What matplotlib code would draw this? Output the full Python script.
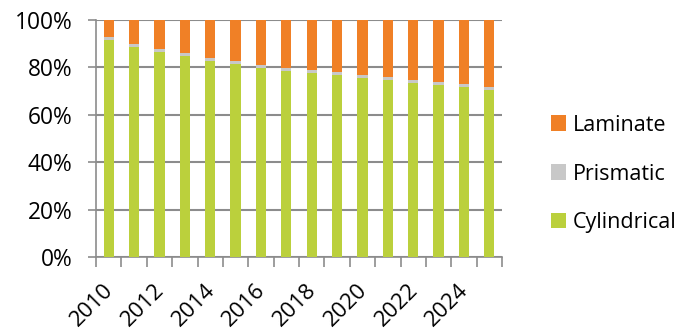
import matplotlib.pyplot as plt
import matplotlib.transforms as mtransforms
import numpy as np

years = list(range(2010, 2026))
cylindrical = [91.7, 88.7, 86.6, 84.7, 82.7, 81.4, 79.7, 78.6,
               77.6, 76.8, 75.7, 74.8, 73.5, 72.6, 71.7, 70.5]
prismatic = [1.0, 1.3, 1.1, 1.5, 1.3, 1.4, 1.3, 1.3,
             1.3, 1.1, 1.1, 1.1, 1.3, 1.3, 1.3, 1.3]
laminate = [100 - c - p for c, p in zip(cylindrical, prismatic)]

green = '#bbd03c'
grey = '#c8c8c8'
orange = '#f08026'

plt.rcParams['font.family'] = ['Open Sans', 'DejaVu Sans']

fig = plt.figure(figsize=(6.84, 3.29), dpi=100)
ax = fig.add_axes([96 / 684, 1 - 257 / 329, (502 - 96) / 684, (257 - 20) / 329])

x = np.arange(len(years))
cyl = np.array(cylindrical) / 100
pri = np.array(prismatic) / 100
lam = np.array(laminate) / 100

w = 0.4
b1 = ax.bar(x, cyl, w, color=green, label='Cylindrical', zorder=3)
b2 = ax.bar(x, pri, w, bottom=cyl, color=grey, label='Prismatic', zorder=3)
b3 = ax.bar(x, lam, w, bottom=cyl + pri, color=orange, label='Laminate', zorder=3)

ax.set_xlim(-0.5, len(years) - 0.5)
ax.set_ylim(0, 1)

# gridlines
ax.set_yticks(np.arange(0, 1.01, 0.2))
ax.set_yticklabels(['%d%%' % v for v in range(0, 101, 20)])
ax.yaxis.grid(True, color='#8c8c8c', linewidth=1.5, zorder=0)
ax.tick_params(axis='y', length=6, width=1.2, color='#8c8c8c', pad=11, labelsize=16.4)

# x ticks at category boundaries, labels every other year
ax.set_xticks(np.arange(-0.5, len(years), 1.0))
ax.set_xticklabels([])
ax.set_xticks(x[::2], minor=True)
ax.set_xticklabels([str(y) for y in years[::2]], minor=True, rotation=45,
                   ha='right', rotation_mode='anchor')
ax.tick_params(axis='x', which='major', length=7, width=1.2, color='#8c8c8c')
ax.tick_params(axis='x', which='minor', length=0, pad=16, labelsize=16)
shift = mtransforms.ScaledTranslation(-6 / 100, 0, fig.dpi_scale_trans)
for lbl in ax.xaxis.get_minorticklabels():
    lbl.set_transform(lbl.get_transform() + shift)

for s in ['top', 'right']:
    ax.spines[s].set_visible(False)
for s in ['left', 'bottom']:
    ax.spines[s].set_color('#8c8c8c')
    ax.spines[s].set_linewidth(1.2)

fig.legend(handles=[b3, b2, b1], loc='center left',
           bbox_to_anchor=(551 / 684, 1 - 174 / 329), frameon=False,
           fontsize=15.5, handlelength=0.7, handleheight=0.7, borderpad=0,
           borderaxespad=0, handletextpad=0.33, labelspacing=1.3)

fig.savefig('out.png', dpi=100)
